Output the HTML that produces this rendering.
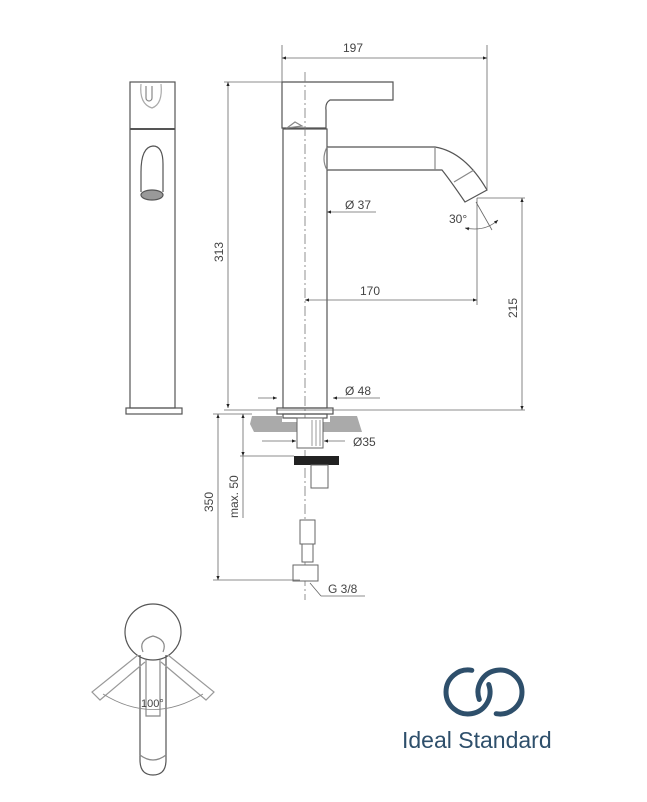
<!DOCTYPE html>
<html><head><meta charset="utf-8"><style>
html,body{margin:0;padding:0;background:#fff}
svg{display:block}
text{font-family:"Liberation Sans",sans-serif;fill:#444}
</style></head><body>
<svg width="647" height="802" viewBox="0 0 647 802" xmlns="http://www.w3.org/2000/svg">
<defs>
<marker id="a" viewBox="0 0 10 10" refX="10" refY="5" markerWidth="7" markerHeight="5" orient="auto-start-reverse"><path d="M0,1 L10,5 L0,9z" fill="#222"/></marker>
</defs>
<g fill="none" stroke="#555" stroke-width="1.2">
<rect x="130" y="82" width="45" height="326"/>
<line x1="130" y1="129" x2="175" y2="129" stroke-width="2"/>
<path d="M146,86 v12 a3,3 0 0 0 6,0 v-12" stroke="#888"/>
<path d="M141,84 q-2,20 11,24 q11,-4 9,-24" stroke="#aaa"/>
<path d="M141,172 q0,-25 12,-26 q10,0 10,18 v28" />
<path d="M141,172 v20"/>
<ellipse cx="152" cy="195" rx="11" ry="5" fill="#999"/>
<rect x="126" y="408" width="56" height="6"/>
<path d="M282,82 H393 V100 H330 Q325,103 326,110 V128 H282z"/>
<path d="M287,128 L295,122 L302,126 Z" stroke="#888"/>
<rect x="283" y="129" width="44" height="279"/>
<path d="M327,147 H435 Q465,152 487,190 L465,202 Q450,180 442,170 H327" />
<line x1="435" y1="147" x2="435" y2="170" stroke="#888"/>
<line x1="454" y1="182" x2="474" y2="170" stroke="#888"/>
<path d="M327,147 q-6,12 0,23" stroke="#888"/>
<rect x="277" y="408" width="56" height="6"/>
<rect x="283" y="414" width="44" height="4"/>
<line x1="305" y1="72" x2="305" y2="600" stroke="#777" stroke-width="0.8" stroke-dasharray="10,3,2,3"/>
</g>
<path d="M252,416 H282 V422 H330 V416 H357 L362,432 H254 L250,424z" fill="#aaa"/>
<rect x="297" y="418" width="26" height="30" fill="#fff" stroke="#666"/>
<path d="M312,420 v26 M316,420 v26 M320,420 v26" stroke="#999"/>
<rect x="294" y="456" width="45" height="9" fill="#222"/>
<rect x="311" y="465" width="17" height="23" fill="#fff" stroke="#666"/>
<path d="M300,520 h15 v24 h-15z M302,544 h11 v18 h-11z M293,565 h25 v16 h-25z" fill="#fff" stroke="#666"/>
<g stroke="#666" stroke-width="0.8" fill="none">
<line x1="282" y1="45" x2="282" y2="82"/><line x1="487" y1="45" x2="487" y2="190"/>
<line x1="282" y1="58" x2="487" y2="58" marker-start="url(#a)" marker-end="url(#a)"/>
<line x1="224" y1="82" x2="282" y2="82"/>
<line x1="228" y1="82" x2="228" y2="408" marker-start="url(#a)" marker-end="url(#a)"/>
<line x1="224" y1="410" x2="525" y2="410"/>
<line x1="477" y1="198" x2="525" y2="198"/>
<line x1="522" y1="198" x2="522" y2="410" marker-start="url(#a)" marker-end="url(#a)"/>
<line x1="477" y1="198" x2="477" y2="305"/>
<line x1="305" y1="300" x2="477" y2="300" marker-start="url(#a)" marker-end="url(#a)"/>
<line x1="345" y1="212" x2="327" y2="212" marker-end="url(#a)"/><line x1="345" y1="212" x2="376" y2="212"/>
<line x1="476" y1="202" x2="492" y2="230" />
<path d="M465,228 Q485,232 498,220" marker-start="url(#a)" marker-end="url(#a)"/>
<line x1="258" y1="398" x2="277" y2="398" marker-end="url(#a)"/>
<line x1="352" y1="398" x2="333" y2="398" marker-end="url(#a)"/><line x1="352" y1="398" x2="380" y2="398"/>
<line x1="262" y1="441" x2="296" y2="441" marker-end="url(#a)"/>
<line x1="345" y1="441" x2="324" y2="441" marker-end="url(#a)"/>
<line x1="213" y1="414" x2="252" y2="414"/>
<line x1="218" y1="414" x2="218" y2="580" marker-start="url(#a)" marker-end="url(#a)"/>
<line x1="213" y1="580" x2="300" y2="580"/>
<line x1="243" y1="414" x2="243" y2="456" marker-start="url(#a)" marker-end="url(#a)"/>
<line x1="240" y1="456" x2="294" y2="456"/>
<line x1="243" y1="456" x2="243" y2="518"/>
<line x1="310" y1="583" x2="321" y2="596"/><line x1="321" y1="596" x2="365" y2="596"/>
</g>
<g font-size="12">
<text x="343" y="52">197</text>
<text x="360" y="295">170</text>
<text x="345" y="209">Ø 37</text>
<text x="345" y="395">Ø 48</text>
<text x="353" y="446">Ø35</text>
<text x="449" y="223">30°</text>
<text x="328" y="593">G 3/8</text>
<text transform="translate(223,262) rotate(-90)">313</text>
<text transform="translate(517,318) rotate(-90)">215</text>
<text transform="translate(213,512) rotate(-90)">350</text>
<text transform="translate(238,518) rotate(-90)">max. 50</text>
</g>
<g fill="none" stroke="#555" stroke-width="1.2">
<circle cx="153" cy="632" r="28"/>
<path d="M143,652 Q138,640 153,636 Q168,640 163,652" stroke="#888"/>
<path d="M140,655 V760 Q140,775 153,775 Q166,775 166,760 V655"/>
<path d="M146,660 V716 h14 V660" stroke="#888"/>
<path d="M140,755 Q153,765 166,755" stroke="#888"/>
<path d="M138,655 L92,692 L100,700 L145,662" stroke="#999"/>
<path d="M168,655 L214,692 L206,700 L161,662" stroke="#999"/>
<path d="M103,694 Q153,725 203,694" stroke="#888" stroke-width="0.8"/>
</g>
<text x="141" y="707" font-size="11">100°</text>
<g fill="none" stroke="#2e4f6b" stroke-width="5" stroke-linecap="round">
<path d="M471.8,670.3 A22,22 0 1 0 488.7,684.5"/>
<path d="M496.2,713.7 A22,22 0 1 0 479.3,699.5"/>
</g>
<text x="402" y="748" font-size="23" style="fill:#2e4f6b">Ideal Standard</text>
</svg>
</body></html>
